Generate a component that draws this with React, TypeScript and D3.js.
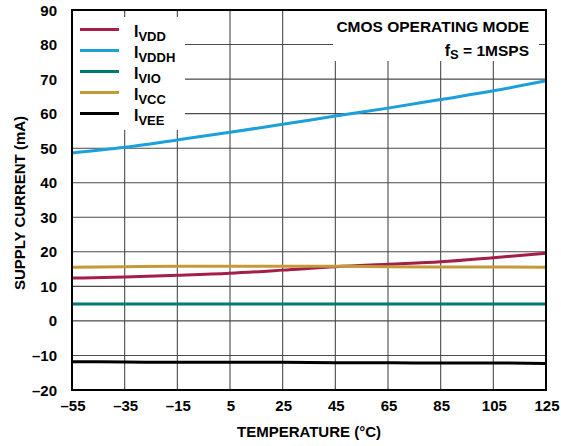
import React from "react";
import * as d3 from "d3";

const temps = [-55, -35, -15, 5, 25, 45, 65, 85, 105, 125];
const iVDD = [12.4, 12.7, 13.2, 13.8, 14.7, 15.7, 16.4, 17.1, 18.3, 19.6];
const iVDDH = [48.6, 50.25, 52.4, 54.6, 56.9, 59.3, 61.6, 64.1, 66.6, 69.5];
const iVIO = [4.9, 4.9, 4.9, 4.9, 4.9, 4.9, 4.9, 4.9, 4.9, 4.9];
const iVCC = [15.5, 15.7, 15.8, 15.8, 15.8, 15.8, 15.7, 15.6, 15.6, 15.5];
const iVEE = [-11.8, -11.9, -12.0, -12.0, -12.0, -12.1, -12.1, -12.2, -12.2, -12.3];

const xTicks = [-55, -35, -15, 5, 25, 45, 65, 85, 105, 125];
const yTicks = [-20, -10, 0, 10, 20, 30, 40, 50, 60, 70, 80, 90];

const seriesNames = ["VDD", "VDDH", "VIO", "VCC", "VEE"];
const seriesColors = ["#a31f49", "#1ca0d9", "#007a70", "#c39a37", "#000000"];

const fmt = (v: number) => (v < 0 ? "\u2013" + Math.abs(v) : String(v));

export default function App() {
  const W = 561, H = 446;
  const left = 72, right = 546, top = 10, bottom = 390;
  const x = d3.scaleLinear().domain([-55, 125]).range([left, right]);
  const y = d3.scaleLinear().domain([-20, 90]).range([bottom, top]);
  const line = d3
    .line<number>()
    .x((_, i) => x(temps[i]))
    .y((d) => y(d))
    .curve(d3.curveMonotoneX);
  const data = [iVDD, iVDDH, iVIO, iVCC, iVEE];
  const font = "'Liberation Sans', Arial, sans-serif";

  return (
    <svg
      width={W}
      height={H}
      style={{ position: "absolute", left: 0, top: 0 }}
      fontFamily={font}
      fontWeight="bold"
    >
      <rect x={0} y={0} width={W} height={H} fill="#fff" />
      {/* grid */}
      {yTicks.slice(1, -1).map((t) => (
        <line key={"h" + t} x1={left} x2={right} y1={y(t)} y2={y(t)} stroke="#4a4a4a" strokeWidth={1.1} />
      ))}
      {xTicks.slice(1, -1).map((t) => (
        <line key={"v" + t} x1={x(t)} x2={x(t)} y1={top} y2={bottom} stroke="#4a4a4a" strokeWidth={1.1} />
      ))}
      {/* white boxes behind legend and annotation */}
      <rect x={left + 1} y={17} width={185 - left - 1} height={113} fill="#fff" />
      <rect x={333} y={top + 1} width={539 - 333} height={50} fill="#fff" />
      {/* series */}
      {data.map((d, i) => (
        <path key={i} d={line(d) || ""} fill="none" stroke={seriesColors[i]} strokeWidth={3} />
      ))}
      {/* frame */}
      <rect x={left} y={top} width={right - left} height={bottom - top} fill="none" stroke="#000" strokeWidth={2} />
      {/* y ticks */}
      {yTicks.map((t) => (
        <text key={"yl" + t} x={57} y={y(t) + 5.5} textAnchor="end" fontSize={15}>
          {fmt(t)}
        </text>
      ))}
      {/* x ticks */}
      {xTicks.map((t) => (
        <text key={"xl" + t} x={x(t) + 1} y={411} textAnchor="middle" fontSize={15}>
          {fmt(t)}
        </text>
      ))}
      <text x={(left + right) / 2} y={437} textAnchor="middle" fontSize={15}>
        TEMPERATURE (°C)
      </text>
      <text
        transform={`translate(25, ${(top + bottom) / 2 + 3}) rotate(-90)`}
        textAnchor="middle"
        fontSize={15}
      >
        SUPPLY CURRENT (mA)
      </text>
      {/* legend */}
      {seriesNames.map((n, i) => {
        const ly = 29.5 + i * 21;
        return (
          <g key={n}>
            <line x1={80} x2={119} y1={ly} y2={ly} stroke={seriesColors[i]} strokeWidth={3} />
            <text x={134} y={ly + 7} fontSize={16}>
              I
              <tspan fontSize={13} dy={4}>
                {n}
              </tspan>
            </text>
          </g>
        );
      })}
      {/* annotation */}
      <text x={529} y={32} textAnchor="end" fontSize={15.5}>
        CMOS OPERATING MODE
      </text>
      <text x={529} y={56} textAnchor="end" fontSize={16}>
        f
        <tspan fontSize={13} dy={3}>
          S
        </tspan>
        <tspan fontSize={15.5} dy={-3}>
          {" = 1MSPS"}
        </tspan>
      </text>
    </svg>
  );
}
